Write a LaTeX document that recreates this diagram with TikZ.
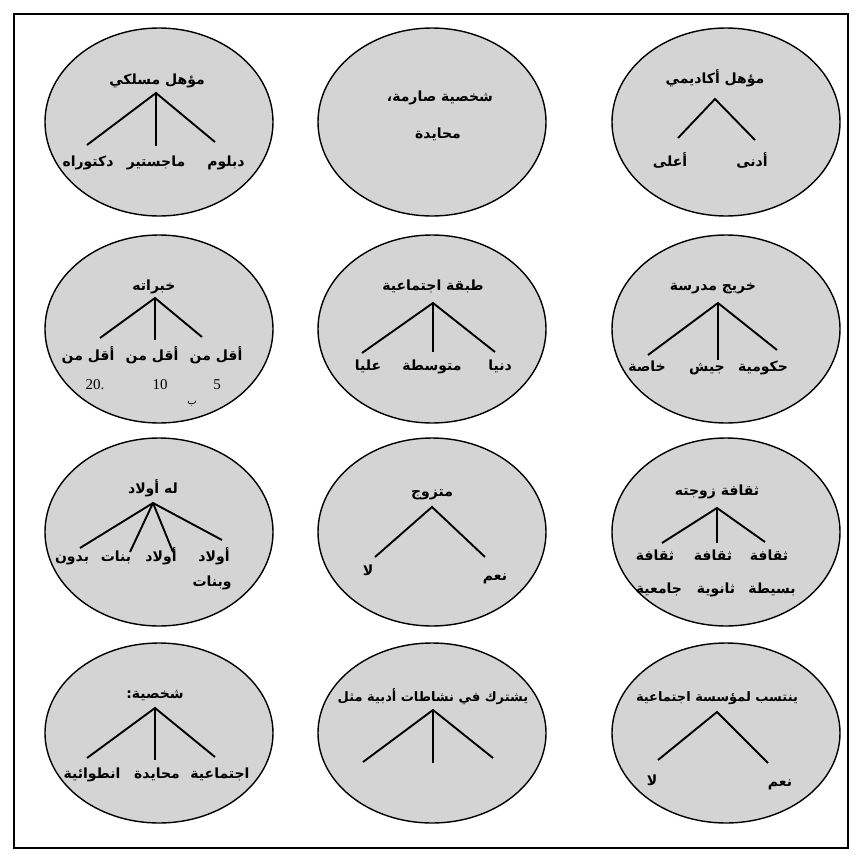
\documentclass[tikz,border=0pt]{standalone}
\usepackage{fontspec}
\setmainfont{Liberation Serif}
\usetikzlibrary{shapes.geometric}
\TeXXeTstate=1
\newfontfamily\arabicfont[Script=Arabic]{DejaVu Sans}
\newcommand\artx[1]{\beginR #1\endR}
\definecolor{bubblegray}{HTML}{D4D4D4}
\begin{document}
\begin{tikzpicture}[x=1pt,y=-1pt,
  bubble/.style={ellipse,draw=black,line width=1.4pt,fill=bubblegray,minimum width=228pt,minimum height=188pt,inner sep=0pt},
  lbl/.style={font=\arabicfont\bfseries\fontsize{14}{17}\selectfont,inner sep=0pt,text height=11pt,text depth=4pt},
  longlbl/.style={font=\arabicfont\bfseries\fontsize{13}{16}\selectfont,inner sep=0pt,text height=11pt,text depth=4pt},
  num/.style={font=\fontsize{15}{18}\selectfont,inner sep=0pt},
  branch/.style={line width=1.9pt}]
\useasboundingbox (0,0) rectangle (862,862);
\fill[white] (0,0) rectangle (862,862);
\node[draw=black,line width=1.2pt,minimum width=834pt,minimum height=834pt,inner sep=0pt] (frame) at (431,431) {};

% ---------- ellipses ----------
\node[bubble] (e1) at (159,122) {};
\node[bubble] (e2) at (432,122) {};
\node[bubble] (e3) at (726,122) {};
\node[bubble] (e4) at (159,329) {};
\node[bubble] (e5) at (432,329) {};
\node[bubble] (e6) at (726,329) {};
\node[bubble] (e7) at (159,532) {};
\node[bubble] (e8) at (432,532) {};
\node[bubble] (e9) at (726,532) {};
\node[bubble,minimum height=180pt] (e10) at (159,733) {};
\node[bubble,minimum height=180pt] (e11) at (432,733) {};
\node[bubble,minimum height=180pt] (e12) at (726,733) {};

% ---------- e1: professional qualification ----------
\node[lbl] (t1) at (157,81) {\artx{مؤهل مسلكي}};
\coordinate (a1) at (156,93);
\coordinate (a1l) at (87,145);
\coordinate (a1m) at (156,146);
\coordinate (a1r) at (215,142);
\draw[branch] (a1l) -- (a1) -- (a1r); \draw[branch] (a1) -- (a1m);
\node[lbl] (l1a) at (88,163) {\artx{دكتوراه}};
\node[lbl] (l1b) at (156,163) {\artx{ماجستير}};
\node[lbl] (l1c) at (226,163) {\artx{دبلوم}};

% ---------- e2 ----------
\node[lbl] (t2) at (440,98) {\artx{شخصية صارمة،}};
\node[lbl] (t2b) at (438,135) {\artx{محايدة}};

% ---------- e3: academic qualification ----------
\node[lbl] (t3) at (715,80) {\artx{مؤهل أكاديمي}};
\coordinate (a3) at (715,99);
\coordinate (a3l) at (678,138);
\coordinate (a3r) at (755,140);
\draw[branch] (a3l) -- (a3) -- (a3r);
\node[lbl] (l3a) at (670,163) {\artx{أعلى}};
\node[lbl] (l3b) at (752,163) {\artx{أدنى}};

% ---------- e4: experience ----------
\node[lbl] (t4) at (154,287) {\artx{خبراته}};
\coordinate (a4) at (155,298);
\coordinate (a4l) at (100,338);
\coordinate (a4m) at (155,340);
\coordinate (a4r) at (202,337);
\draw[branch] (a4l) -- (a4) -- (a4r); \draw[branch] (a4) -- (a4m);
\node[lbl] (l4a) at (88,357) {\artx{أقل من}};
\node[lbl] (l4b) at (152,357) {\artx{أقل من}};
\node[lbl] (l4c) at (216,357) {\artx{أقل من}};
\node[num] (n4a) at (95,385) {20.};
\node[num] (n4b) at (160,385) {10};
\node[num] (n4c) at (217,385) {5};
\node[lbl,font=\arabicfont\fontsize{10}{12}\selectfont,text height=7pt,text depth=3pt] (n4d) at (192,402) {\artx{ب}};

% ---------- e5: social class ----------
\node[lbl] (t5) at (433,287) {\artx{طبقة اجتماعية}};
\coordinate (a5) at (433,303);
\coordinate (a5l) at (362,353);
\coordinate (a5m) at (433,352);
\coordinate (a5r) at (495,352);
\draw[branch] (a5l) -- (a5) -- (a5r); \draw[branch] (a5) -- (a5m);
\node[lbl] (l5a) at (368,367) {\artx{عليا}};
\node[lbl] (l5b) at (432,367) {\artx{متوسطة}};
\node[lbl] (l5c) at (500,367) {\artx{دنيا}};

% ---------- e6: school graduate ----------
\node[lbl] (t6) at (713,287) {\artx{خريج مدرسة}};
\coordinate (a6) at (718,303);
\coordinate (a6l) at (648,355);
\coordinate (a6m) at (718,360);
\coordinate (a6r) at (777,350);
\draw[branch] (a6l) -- (a6) -- (a6r); \draw[branch] (a6) -- (a6m);
\node[lbl] (l6a) at (647,368) {\artx{خاصة}};
\node[lbl] (l6b) at (707,368) {\artx{جيش}};
\node[lbl] (l6c) at (763,368) {\artx{حكومية}};

% ---------- e7: has children ----------
\node[lbl] (t7) at (153,490) {\artx{له أولاد}};
\coordinate (a7) at (153,503);
\coordinate (a7a) at (80,548);
\coordinate (a7b) at (130,552);
\coordinate (a7c) at (173,552);
\coordinate (a7d) at (222,540);
\draw[branch] (a7a) -- (a7) -- (a7d);
\draw[branch] (a7) -- (a7b); \draw[branch] (a7) -- (a7c);
\node[lbl] (l7a) at (72,558) {\artx{بدون}};
\node[lbl] (l7b) at (116,558) {\artx{بنات}};
\node[lbl] (l7c) at (161,558) {\artx{أولاد}};
\node[lbl] (l7d) at (214,558) {\artx{أولاد}};
\node[lbl] (l7e) at (212,583) {\artx{وبنات}};

% ---------- e8: married ----------
\node[lbl] (t8) at (432,493) {\artx{متزوج}};
\coordinate (a8) at (432,507);
\coordinate (a8l) at (375,557);
\coordinate (a8r) at (485,557);
\draw[branch] (a8l) -- (a8) -- (a8r);
\node[lbl] (l8a) at (368,572) {\artx{لا}};
\node[lbl] (l8b) at (495,577) {\artx{نعم}};

% ---------- e9: wife's education ----------
\node[lbl] (t9) at (717,492) {\artx{ثقافة زوجته}};
\coordinate (a9) at (717,508);
\coordinate (a9l) at (662,543);
\coordinate (a9m) at (717,543);
\coordinate (a9r) at (765,542);
\draw[branch] (a9l) -- (a9) -- (a9r); \draw[branch] (a9) -- (a9m);
\node[lbl] (l9a) at (655,557) {\artx{ثقافة}};
\node[lbl] (l9b) at (713,557) {\artx{ثقافة}};
\node[lbl] (l9c) at (769,557) {\artx{ثقافة}};
\node[lbl] (l9d) at (659,590) {\artx{جامعية}};
\node[lbl] (l9e) at (716,590) {\artx{ثانوية}};
\node[lbl] (l9f) at (772,590) {\artx{بسيطة}};

% ---------- e10: personality ----------
\node[lbl] (t10) at (155,695) {\artx{شخصية:}};
\coordinate (a10) at (155,708);
\coordinate (a10l) at (87,758);
\coordinate (a10m) at (155,760);
\coordinate (a10r) at (215,757);
\draw[branch] (a10l) -- (a10) -- (a10r); \draw[branch] (a10) -- (a10m);
\node[lbl] (l10a) at (92,775) {\artx{انطوائية}};
\node[lbl] (l10b) at (157,775) {\artx{محايدة}};
\node[lbl] (l10c) at (220,775) {\artx{اجتماعية}};

% ---------- e11: literary activities ----------
\node[longlbl] (t11) at (433,698) {\artx{يشترك في نشاطات أدبية مثل}};
\coordinate (a11) at (433,710);
\coordinate (a11l) at (363,762);
\coordinate (a11m) at (433,763);
\coordinate (a11r) at (493,758);
\draw[branch] (a11l) -- (a11) -- (a11r); \draw[branch] (a11) -- (a11m);

% ---------- e12: social institution ----------
\node[longlbl] (t12) at (717,698) {\artx{ينتسب لمؤسسة اجتماعية}};
\coordinate (a12) at (717,712);
\coordinate (a12l) at (658,760);
\coordinate (a12r) at (768,763);
\draw[branch] (a12l) -- (a12) -- (a12r);
\node[lbl] (l12a) at (652,782) {\artx{لا}};
\node[lbl] (l12b) at (780,783) {\artx{نعم}};
\end{tikzpicture}
\end{document}
